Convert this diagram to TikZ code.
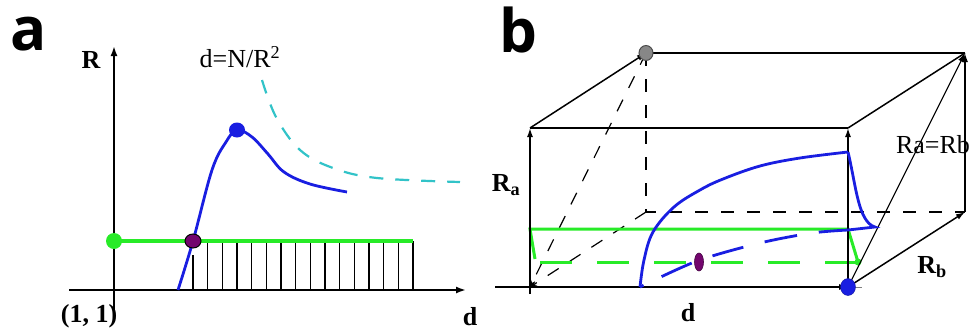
\documentclass[tikz,border=0pt]{standalone}
\usepackage{fontspec}
\setmainfont{Liberation Serif}
\newfontfamily\panelfont{Open Sans}
\usetikzlibrary{arrows.meta,shapes.geometric}
\definecolor{cblue}{RGB}{25,30,225}
\definecolor{cgreen}{RGB}{40,235,40}
\definecolor{ccyan}{RGB}{50,195,200}
\definecolor{cpurple}{RGB}{115,5,110}
\definecolor{cgray}{RGB}{135,135,135}
\begin{document}
\begin{tikzpicture}[x=1pt,y=-1pt,
  axis/.style={line width=1.8pt,-{Latex[length=10pt,width=7pt]}},
  edge/.style={line width=1.5pt},
  edgearr/.style={line width=1.5pt,-{Latex[length=9pt,width=6pt]}},
  thinarr/.style={line width=1.1pt,-{Latex[length=9pt,width=6pt]}},
  hidden/.style={line width=1.2pt,dash pattern=on 13pt off 13pt},
  hiddenarr/.style={hidden,-{Stealth[length=7pt,width=5pt]}},
  hatch/.style={line width=1.3pt},
  bluecurve/.style={draw=cblue,line width=2.8pt},
  greenline/.style={draw=cgreen,line width=3.4pt},
  cyandash/.style={draw=ccyan,line width=2.2pt,dash pattern=on 14pt off 12pt},
  lbl/.style={font=\fontsize{26}{26}\selectfont\bfseries,inner sep=0pt},
  eqlbl/.style={font=\fontsize{26}{26}\selectfont,inner sep=0pt},
  panel/.style={font=\fontsize{60}{60}\selectfont\panelfont\bfseries,inner sep=0pt},
  dot/.style={circle,inner sep=0pt,minimum size=16pt}
]
\useasboundingbox (0,0) rectangle (975,333);

% ---------------- panel a ----------------
\node[panel] (pa) at (29,34) {a};
\coordinate (ybot) at (114,322);
\coordinate (ytop) at (114,46);
\coordinate (xl) at (69,290);
\coordinate (xr) at (466,290);
\draw[axis] (ybot) -- (ytop);
\draw[axis] (xl) -- (xr);

% hatching
\draw[hatch] (193,255) -- (193,290);
\foreach \i in {1,...,15}{
  \draw[hatch] ({193+\i*14.67},241) -- ({193+\i*14.67},290);
}
\coordinate (gend) at (413,241);
\node[dot,fill=cgreen] (gdot) at (114,241) {};
\draw[greenline] (gdot.center) -- (gend);

% blue curve
\draw[bluecurve] plot[smooth,tension=0.6] coordinates {(178,290) (193,241) (212,170) (226,142) (237,130) (252,137) (268,154) (284,172) (310,184) (347,192)};
\draw[cyandash] plot[smooth,tension=0.6] coordinates {(262,80) (276,117) (300,150) (333,168) (377,178) (460,182)};

\node[ellipse,fill=cblue,inner sep=0pt,minimum width=16pt,minimum height=15pt] (bdot) at (237,130) {};
\node[ellipse,fill=cpurple,draw=black,line width=1pt,inner sep=0pt,minimum width=16pt,minimum height=14pt] (pdot) at (193,241) {};

\node[lbl] (lR) at (91,60) {R};
\node[eqlbl] (leq) at (240,57) {d=N/R\textsuperscript{2}};
\node[lbl] (l11) at (89,316) {(1, 1)};
\node[lbl] (ld) at (470,317) {d};

% ---------------- panel b ----------------
\node[panel] (pb) at (518,30) {b};
\coordinate (A) at (530,287);
\coordinate (Abot) at (530,294);
\coordinate (B) at (848,287);
\coordinate (C) at (530,128);
\coordinate (D) at (848,128);
\coordinate (E) at (646,53);
\coordinate (F) at (965,53);
\coordinate (G) at (646,212);
\coordinate (H) at (965,212);
\coordinate (axl) at (495,287);
\coordinate (axr) at (862,287);

% hidden edges
\draw[hidden] (E) -- (G) -- (H);
\draw[hiddenarr] (E) -- (A);
\draw[hiddenarr] (G) -- (A);

% green
\coordinate (g1) at (530,229);
\coordinate (g2) at (848,229);
\coordinate (g3) at (535,259);
\coordinate (g4) at (858,262);
\coordinate (g5) at (540,262);
\draw[greenline,line width=3pt] (g3) -- (g1) -- (g2) -- (g4);
\draw[greenline,line width=3pt,dash pattern=on 32pt off 25pt] (g5) -- (g4);
\node[circle,fill=cgreen,inner sep=0pt,minimum size=7pt] (gsm) at (g4) {};

% solid edges
\draw[edgearr] (axl) -- (B);
\draw[line width=0.7pt,gray] (B) -- (axr);
\draw[edgearr] (Abot) -- (C);
\draw[edgearr] (B) -- (D);
\draw[edge] (C) -- (D);
\draw[edgearr] (C) -- (E);
\draw[edge] (D) -- (F);
\draw[edge] (E) -- (F);
\draw[edgearr] (H) -- (F);
\draw[thinarr] (B) -- (F);
\draw[edgearr] (B) -- (H);

% blue curves
\draw[bluecurve] plot[smooth,tension=0.6] coordinates {(640,287) (644,260) (653,232) (674,207) (700,190) (723,179) (760,166) (800,158) (848,152)};
\draw[bluecurve] (848,152) .. controls (856,185) and (858,222) .. (875,227) -- (848,230);
\draw[bluecurve,dash pattern=on 4pt off 20pt on 33pt off 22pt on 32pt off 22pt on 33pt off 22pt on 40pt off 10pt]
  plot[smooth,tension=0.5] coordinates {(640,287) (697,261) (760,243) (812,233) (848,230)};
\node[ellipse,fill=cpurple,draw=cpurple!60!black,line width=0.6pt,inner sep=0pt,minimum width=9pt,minimum height=18pt] (pdot2) at (699,262) {};
\node[ellipse,fill=cgray,draw=black!70,line width=1pt,inner sep=0pt,minimum width=14pt,minimum height=15pt] (gray) at (E) {};
\node[ellipse,fill=cblue,draw=cblue!70!black,inner sep=0pt,minimum width=15pt,minimum height=17pt] (bdot2) at (B) {};

\node[lbl] (lRa) at (506,185) {R\textsubscript{a}};
\node[eqlbl] (lRab) at (933,145) {Ra=Rb};
\node[lbl] (lRb) at (932,267) {R\textsubscript{b}};
\node[lbl] (ld2) at (688,313) {d};
\end{tikzpicture}
\end{document}
